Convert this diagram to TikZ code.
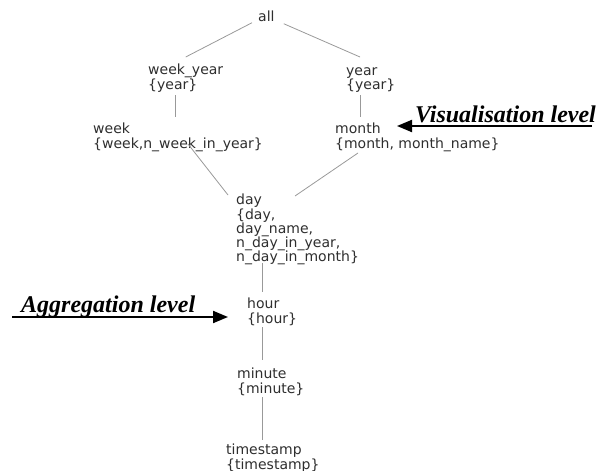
\documentclass[tikz,border=0pt]{standalone}
\usepackage{fontspec}
\setmainfont{Liberation Serif}
\newfontfamily\dimfont{DejaVu Sans}
\usetikzlibrary{calc,arrows.meta}
\definecolor{dimtext}{HTML}{2E2E2E}
\definecolor{dimedge}{HTML}{999999}

\begin{document}
\begin{tikzpicture}[x=1pt,y=-1pt]

\tikzset{levelnode/.style={anchor=north west,inner sep=0pt,align=left,text=dimtext,font=\dimfont\fontsize{14}{14.2}\selectfont},
edge/.style={dimedge,line width=0.8pt},
levelarrow/.style={black,line width=2pt,-{Triangle[length=15pt,width=12pt]}},
levellabel/.style={anchor=base west,inner sep=0pt,font=\fontsize{24}{28}\selectfont\bfseries\itshape}}

\useasboundingbox (0,0) rectangle (606,471);

% Level nodes
\node[levelnode] (al) at (258,11) {all};
\node[levelnode] (wy) at (148,64) {week\_year\\\{year\}};
\node[levelnode] (yr) at (346,67) {year\\\{year\}};
\node[levelnode] (wk) at (93,123) {week\\\{week,n\_week\_in\_year\}};
\node[levelnode] (mo) at (335,123) {month\\\{month, month\_name\}};
\node[levelnode] (dy) at (236,194) {day\\\{day,\\day\_name,\\n\_day\_in\_year,\\n\_day\_in\_month\}};
\node[levelnode] (hr) at (247,298) {hour\\\{hour\}};
\node[levelnode] (mi) at (237,368) {minute\\\{minute\}};
\node[levelnode] (ts) at (226,444) {timestamp\\\{timestamp\}};

% Edges
\draw[edge] ($(al.south west)+(-6,0.5)$) -- ($(wy.north)+(0,-7)$);
\draw[edge] ($(al.south east)+(9,1.5)$) -- ($(yr.north west)+(14,-10)$);
\draw[edge] ($(wy.north west)+(27,31)$) -- ($(wk.north west)+(82,-6)$);
\draw[edge] ($(yr.north west)+(14,28)$) -- ($(mo.north west)+(25,-6)$);
\draw[edge] ($(wk.north west)+(95,21)$) -- ($(dy.north west)+(-8,1)$);
\draw[edge] ($(mo.north west)+(23,30)$) -- ($(dy.north west)+(59,2)$);
\draw[edge] ($(dy.north west)+(26,69)$) -- ($(hr.north west)+(15,-6)$);
\draw[edge] ($(hr.north west)+(15,29)$) -- ($(mi.north west)+(25,-8)$);
\draw[edge] ($(mi.north west)+(25,29)$) -- ($(ts.north west)+(36,-4)$);

% Visualisation level
\node[levellabel] (vislabel) at (415,122) {Visualisation level};
\coordinate (visstart) at (592,126);
\draw[levelarrow] (visstart) -- ($(mo.north west)+(62,3)$);

% Aggregation level
\node[levellabel] (agglabel) at (21,312) {Aggregation level};
\coordinate (aggstart) at (12,317);
\draw[levelarrow] (aggstart) -- ($(hr.north west)+(-19,19)$);

\end{tikzpicture}
\end{document}
